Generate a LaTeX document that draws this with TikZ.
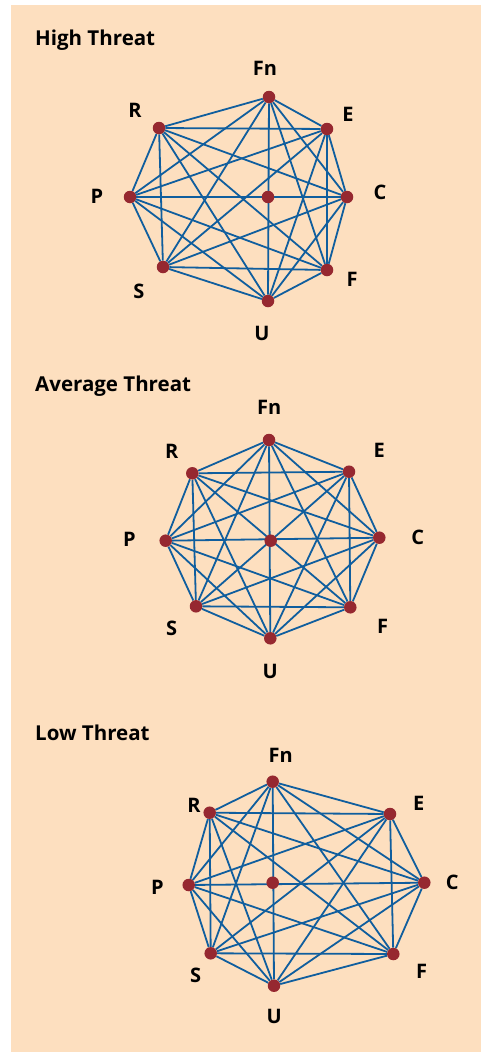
\documentclass[tikz,border=0pt]{standalone}
\usepackage{fontspec}
\setmainfont{Open Sans}
\definecolor{peach}{RGB}{253,223,191}
\definecolor{edgeblue}{RGB}{16,94,158}
\definecolor{dotred}{RGB}{150,40,48}
\pgfdeclarelayer{back}
\pgfdeclarelayer{edges}
\pgfsetlayers{back,edges,main}
\tikzset{
  vdot/.style={circle,fill=dotred,inner sep=0pt,minimum size=12.5pt},
  vlabel/.style={font=\fontsize{20}{20}\selectfont\bfseries,inner sep=0pt},
  gtitle/.style={font=\fontsize{20.5}{20.5}\selectfont\bfseries,inner sep=0pt,anchor=base west},
  gedge/.style={draw=edgeblue,line width=1.8pt}
}
\begin{document}
\begin{tikzpicture}[x=1pt,y=-1pt]
\useasboundingbox (0,0) rectangle (481,1052);
\begin{pgfonlayer}{back}
\fill[peach] (11,5) rectangle (481,1052);
\end{pgfonlayer}
% High Threat
\node[gtitle] (ht) at (35,45) {High Threat};
\node[vdot] (h-Fn) at (269,97) {};
\node[vdot] (h-E) at (327,129) {};
\node[vdot] (h-C) at (347,197) {};
\node[vdot] (h-F) at (327,270) {};
\node[vdot] (h-U) at (268,301) {};
\node[vdot] (h-S) at (163,267) {};
\node[vdot] (h-P) at (130,197) {};
\node[vdot] (h-R) at (159,128) {};
\node[vdot] (h-M) at (268,197) {};
\node[vlabel] (hl-Fn) at (265,68) {Fn};
\node[vlabel] (hl-E) at (348,114) {E};
\node[vlabel] (hl-C) at (380,192) {C};
\node[vlabel] (hl-F) at (352,279) {F};
\node[vlabel] (hl-U) at (262,333) {U};
\node[vlabel] (hl-S) at (139,291) {S};
\node[vlabel] (hl-P) at (97,196) {P};
\node[vlabel] (hl-R) at (135,110) {R};
% Average Threat
\node[gtitle] (at) at (35,391.5) {Average Threat};
\node[vdot] (a-Fn) at (269,440) {};
\node[vdot] (a-E) at (349,471.7) {};
\node[vdot] (a-C) at (379.3,537.7) {};
\node[vdot] (a-F) at (350.3,607.3) {};
\node[vdot] (a-U) at (270.3,638.3) {};
\node[vdot] (a-S) at (196,606.3) {};
\node[vdot] (a-P) at (165.7,540.7) {};
\node[vdot] (a-R) at (192.3,473.3) {};
\node[vdot] (a-M) at (270.7,540.7) {};
\node[vlabel] (al-Fn) at (269.3,407.3) {Fn};
\node[vlabel] (al-E) at (379.3,450) {E};
\node[vlabel] (al-C) at (417.7,537.7) {C};
\node[vlabel] (al-F) at (382.7,626) {F};
\node[vlabel] (al-U) at (270.3,671.7) {U};
\node[vlabel] (al-S) at (171.7,628.3) {S};
\node[vlabel] (al-P) at (129.3,539) {P};
\node[vlabel] (al-R) at (171.7,451) {R};
% Low Threat
\node[gtitle] (lt) at (35,740) {Low Threat};
\node[vdot] (l-Fn) at (272.7,781.7) {};
\node[vdot] (l-E) at (390,814) {};
\node[vdot] (l-C) at (424.3,882.7) {};
\node[vdot] (l-F) at (393.3,954) {};
\node[vdot] (l-U) at (274,985.7) {};
\node[vdot] (l-S) at (210.7,953.3) {};
\node[vdot] (l-P) at (188.7,885) {};
\node[vdot] (l-R) at (209.7,812.7) {};
\node[vdot] (l-M) at (272.7,882.7) {};
\node[vlabel] (ll-Fn) at (280.7,755) {Fn};
\node[vlabel] (ll-E) at (418.7,803) {E};
\node[vlabel] (ll-C) at (452.3,882.7) {C};
\node[vlabel] (ll-F) at (421.7,971.7) {F};
\node[vlabel] (ll-U) at (274.3,1016.7) {U};
\node[vlabel] (ll-S) at (195.7,975) {S};
\node[vlabel] (ll-P) at (157.3,887.7) {P};
\node[vlabel] (ll-R) at (194,805) {R};
\begin{pgfonlayer}{edges}
\foreach \g in {h,a,l}{
  \foreach \u/\v in {Fn/E,Fn/C,Fn/F,Fn/U,Fn/S,Fn/P,Fn/R,
                     E/C,E/F,E/U,E/S,E/P,E/R,
                     C/F,C/U,C/S,C/P,C/R,
                     F/U,F/S,F/P,F/R,
                     U/S,U/P,U/R,
                     S/P,S/R,
                     P/R}{
    \draw[gedge] (\g-\u) -- (\g-\v);
  }
}
\end{pgfonlayer}
\end{tikzpicture}
\end{document}
